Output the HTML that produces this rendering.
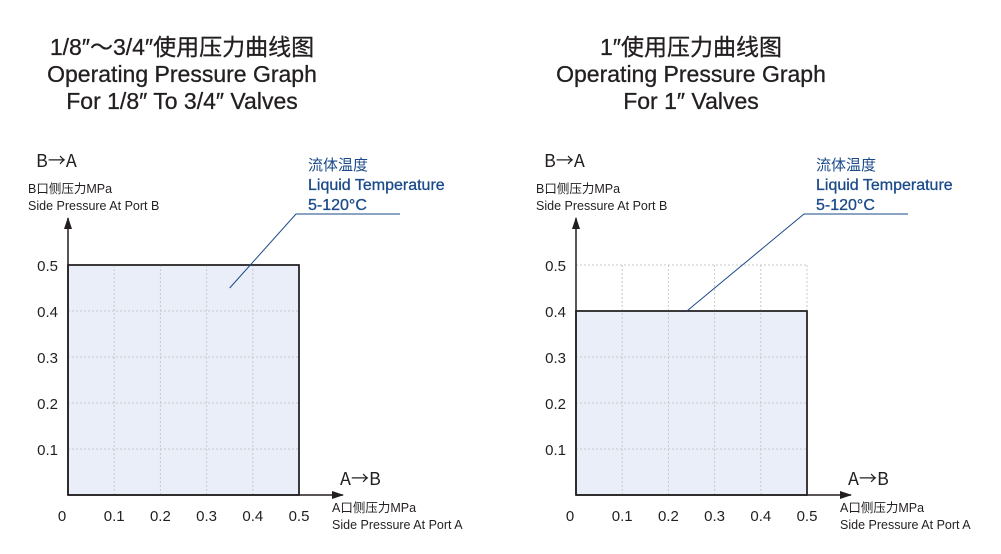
<!DOCTYPE html>
<html><head><meta charset="utf-8"><style>
body{margin:0;background:#fff}
svg{display:block;font-family:"Liberation Sans","Noto Sans CJK SC",sans-serif}
</style></head><body>
<svg id="s" width="1001" height="554">
<defs><marker id="ah" markerWidth="12" markerHeight="8" refX="11" refY="4" orient="auto" markerUnits="userSpaceOnUse"><path d="M0,0 L12,4 L0,8 Z" fill="#231f20"/></marker></defs>
</svg>
<script>
const charts=[
 {ox:68,title:['1/8″～3/4″使用压力曲线图','Operating Pressure Graph','For 1/8″ To 3/4″ Valves'],tx:182,leader:[0.35,0.45]},
 {ox:576,title:['1″使用压力曲线图','Operating Pressure Graph','For 1″  Valves'],tx:691,leader:[0.24,0.4]}
];
const xTicks=[0,0.1,0.2,0.3,0.4,0.5];
const yTicks=[0.1,0.2,0.3,0.4,0.5];
const maxA=[0.5,0.5];
const maxB=[0.5,0.4];
const s=document.getElementById('s');
const NS='http://www.w3.org/2000/svg';
function el(t,a,txt){const e=document.createElementNS(NS,t);for(const k in a)e.setAttribute(k,a[k]);if(txt!==undefined)e.textContent=txt;s.appendChild(e);return e;}
const oy=495,kx=462,ky=460;
charts.forEach((c,i)=>{
 const X=v=>c.ox+v*kx, Y=v=>oy-v*ky;
 c.title.forEach((t,j)=>{const e=el('text',{x:c.tx,y:55+j*27,'text-anchor':'middle','font-size':23,fill:'#231f20','stroke':'#231f20','stroke-width':0.3},t);
 });
 const r=el('rect',{x:X(0),y:Y(maxB[i]),width:X(maxA[i])-X(0),height:Y(0)-Y(maxB[i]),fill:'#e9eef8',stroke:'#231f20','stroke-width':1.5});
 
 xTicks.slice(1).forEach(v=>{const g=el('line',{x1:X(v),x2:X(v),y1:Y(0),y2:Y(0.5),stroke:'#c8c8c8','stroke-dasharray':'2,2'});
 });
 yTicks.forEach(v=>{const g=el('line',{x1:X(0),x2:X(0.5),y1:Y(v),y2:Y(v),stroke:'#c8c8c8','stroke-dasharray':'2,2'});
 });
 el('rect',{x:X(0),y:Y(maxB[i]),width:X(maxA[i])-X(0),height:Y(0)-Y(maxB[i]),fill:'none',stroke:'#231f20','stroke-width':1.5});
 const ya=el('line',{x1:X(0),y1:oy,x2:X(0),y2:218,stroke:'#231f20','stroke-width':1.5,'marker-end':'url(#ah)'});
 
 const xa=el('line',{x1:X(0),y1:oy,x2:X(0)+275,y2:oy,stroke:'#231f20','stroke-width':1.5,'marker-end':'url(#ah)'});
 
 xTicks.forEach(v=>{const t=el('text',{x:v===0?X(v)-6:X(v),y:521,'text-anchor':'middle','font-size':15,fill:'#231f20'},String(v));
 });
 yTicks.forEach(v=>{const t=el('text',{x:X(0)-10,y:Y(v)+6,'text-anchor':'end','font-size':15,fill:'#231f20'},String(v));
 });
 const L=[
  ['text',{x:c.ox-32,y:167,'font-size':18,fill:'#231f20','font-family':'"Noto Sans CJK SC",sans-serif'},'B→A','y-direction-label'],
  ['text',{x:c.ox-40,y:193,'font-size':12.5,fill:'#231f20'},'B口侧压力MPa','y-axis-title-cn'],
  ['text',{x:c.ox-40,y:210,'font-size':12.5,fill:'#231f20'},'Side Pressure At Port B','y-axis-title'],
  ['text',{x:c.ox+272,y:485,'font-size':18,fill:'#231f20','font-family':'"Noto Sans CJK SC",sans-serif'},'A→B','x-direction-label'],
  ['text',{x:c.ox+264,y:512,'font-size':12.5,fill:'#231f20'},'A口侧压力MPa','x-axis-title-cn'],
  ['text',{x:c.ox+264,y:529,'font-size':12.5,fill:'#231f20'},'Side Pressure At Port A','x-axis-title'],
  ['text',{x:c.ox+240,y:170,'font-size':15,fill:'#1a4a8a'},'流体温度','temp-label-cn'],
  ['text',{x:c.ox+240,y:190,'font-size':16,fill:'#1a4a8a',stroke:'#1a4a8a','stroke-width':0.3},'Liquid Temperature','temp-label'],
  ['text',{x:c.ox+240,y:210,'font-size':16,fill:'#1a4a8a',stroke:'#1a4a8a','stroke-width':0.3},'5-120°C','temp-range']];
 L.forEach(([t,a,txt,n])=>{const e=el(t,a,txt);});
 const lx=X(c.leader[0]),ly=Y(c.leader[1]);
 const p=el('polyline',{points:`${lx},${ly} ${c.ox+228},214 ${c.ox+332},214`,fill:'none',stroke:'#1a4a8a','stroke-width':1});
 
});
</script>
</body></html>
